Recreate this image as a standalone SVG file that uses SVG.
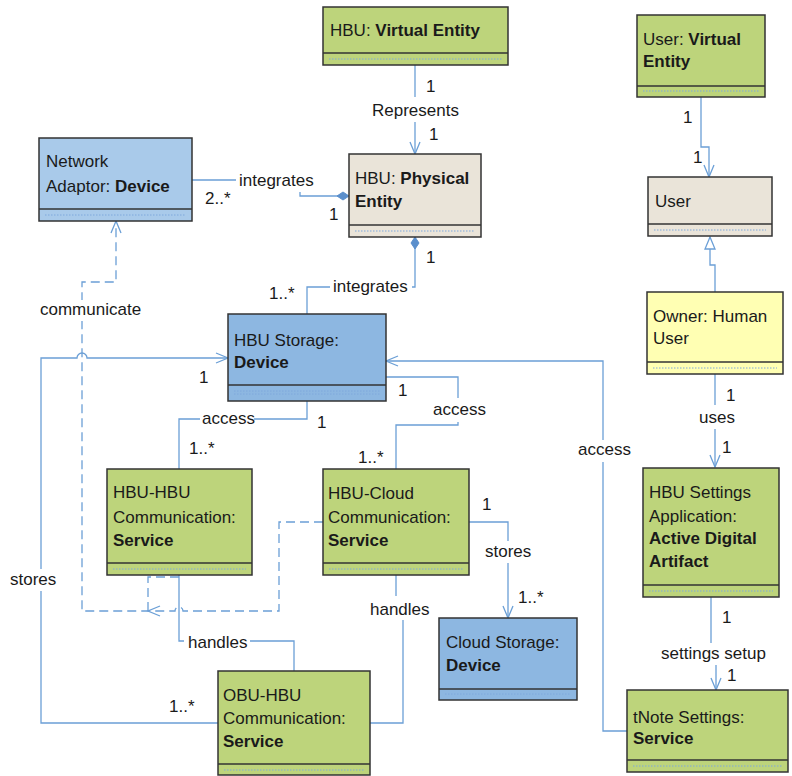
<svg xmlns="http://www.w3.org/2000/svg" width="792" height="776" viewBox="0 0 792 776">
  <style>
    .box { stroke: #333333; stroke-width: 1.5; }
    .green { fill: #BDD47B; }
    .blue { fill: #8DB7E1; }
    .lblue { fill: #A9CAEA; }
    .beige { fill: #EAE4D9; }
    .yellow { fill: #FFFFB3; }
    .div { stroke: #333333; stroke-width: 1.3; }
    .dots { stroke: #7FA8DC; stroke-width: 1; stroke-dasharray: 1.5 1.5; }
    text { font-family: "Liberation Sans", Arial, sans-serif; font-size: 17px; fill: #1a1a1a; }
    .b { font-weight: bold; }
    .conn { fill: none; stroke: #6B9FD6; stroke-width: 1.3; }
    .dash { stroke-dasharray: 9 5; }
    .bg { fill: #ffffff; }
  </style>
  <defs>
    <marker id="open" viewBox="-14 -7 15 14" refX="0" refY="0" markerWidth="15" markerHeight="14" markerUnits="userSpaceOnUse" orient="auto">
      <path d="M-12,-5 L0,0 L-12,5" fill="none" stroke="#6B9FD6" stroke-width="1.3"/>
    </marker>
    <marker id="diamond" viewBox="-13 -5 14 10" refX="0" refY="0" markerWidth="14" markerHeight="10" markerUnits="userSpaceOnUse" orient="auto">
      <path d="M0,0 L-6,-4 L-12,0 L-6,4 Z" fill="#5B8FCC" stroke="#5B8FCC" stroke-width="1"/>
    </marker>
    <marker id="tri" viewBox="-14 -7 15 14" refX="0" refY="0" markerWidth="15" markerHeight="14" markerUnits="userSpaceOnUse" orient="auto">
      <path d="M0,0 L-12,-5 L-12,5 Z" fill="#ffffff" stroke="#6B9FD6" stroke-width="1.3"/>
    </marker>
  </defs>

  <rect width="792" height="776" fill="#ffffff"/>

  <!-- connectors -->
  <g id="connectors">
    <!-- HBU VE represents HBU PE -->
    <path class="conn" d="M415,65 V154" marker-end="url(#open)"/>
    <!-- User VE to User -->
    <path class="conn" d="M701,97 V147 H709 V177" marker-end="url(#open)"/>
    <!-- Network adaptor integrated by PE -->
    <path class="conn" d="M192,180 H300 V196 H349" marker-end="url(#diamond)"/>
    <!-- Storage integrated by PE -->
    <path class="conn" d="M307,314 V287 H415 V237" marker-end="url(#diamond)"/>
    <!-- HBU-HBU access -->
    <path class="conn" d="M307,401 V419 H179 V469"/>
    <!-- HBU-Cloud access -->
    <path class="conn" d="M396,469 V425 H458 V377 H386"/>
    <!-- tNote access -->
    <path class="conn" d="M627,731 H603 V361 H386" marker-end="url(#open)"/>
    <!-- OBU stores -->
    <path class="conn" d="M218,723 H41 V358 H77 A5,5 0 0 1 87,358 H228" marker-end="url(#open)"/>
    <!-- Cloud stores -->
    <path class="conn" d="M469,522 H508 V618" marker-end="url(#open)"/>
    <!-- handles -->
    <path class="conn" d="M179,575 V641 H294 V671"/>
    <path class="conn" d="M396,575 V609 H403 V723 H370"/>
    <!-- uses -->
    <path class="conn" d="M715,374 V467" marker-end="url(#open)"/>
    <!-- settings setup -->
    <path class="conn" d="M711,597 V654 H716 V690" marker-end="url(#open)"/>
    <!-- generalization Owner to User -->
    <path class="conn" d="M715,292 V265 H710 V237" marker-end="url(#tri)"/>
    <!-- communicate dependencies -->
    <path class="conn dash" d="M323,522 H279 V611 H183 A4,4 0 0 0 175,611 H82 V282 H116 V221" marker-end="url(#open)"/>
    <path class="conn dash" d="M179,577 H148 V611"/>
    <path class="conn" d="M160,606 L148,611 L160,616"/>

    <!-- labels -->
    <rect class="bg" x="370" y="97" width="92" height="25"/>
    <text x="372" y="116">Represents</text>
    <text x="426" y="92">1</text>
    <text x="429" y="140">1</text>

    <text x="683" y="123">1</text>
    <text x="693" y="163">1</text>

    <rect class="bg" x="236" y="170" width="85" height="22"/>
    <text x="239" y="186">integrates</text>
    <text x="205" y="204">2..*</text>
    <text x="329" y="220">1</text>

    <rect class="bg" x="330" y="277" width="82" height="21"/>
    <text x="333" y="292">integrates</text>
    <text x="269" y="299">1..*</text>
    <text x="426" y="263">1</text>

    <text x="199" y="383">1</text>

    <rect class="bg" x="200" y="409" width="54" height="20"/>
    <text x="202" y="424">access</text>
    <text x="189" y="454">1..*</text>
    <text x="317" y="428">1</text>

    <rect class="bg" x="431" y="398" width="54" height="24"/>
    <text x="433" y="415">access</text>
    <text x="398" y="396">1</text>
    <text x="358" y="463">1..*</text>

    <rect class="bg" x="576" y="440" width="54" height="22"/>
    <text x="578" y="455">access</text>

    <rect class="bg" x="8" y="569" width="52" height="22"/>
    <text x="10" y="585">stores</text>
    <text x="169" y="712">1..*</text>

    <rect class="bg" x="483" y="541" width="51" height="22"/>
    <text x="485" y="557">stores</text>
    <text x="482" y="510">1</text>
    <text x="518" y="603">1..*</text>

    <rect class="bg" x="184" y="631" width="66" height="20"/>
    <text x="188" y="648">handles</text>

    <rect class="bg" x="367" y="596" width="66" height="24"/>
    <text x="370" y="615">handles</text>

    <rect class="bg" x="38" y="300" width="112" height="21"/>
    <text x="40" y="315">communicate</text>

    <rect class="bg" x="697" y="405" width="36" height="24"/>
    <text x="699" y="423">uses</text>
    <text x="726" y="401">1</text>
    <text x="722" y="453">1</text>

    <rect class="bg" x="659" y="643" width="114" height="22"/>
    <text x="661" y="659">settings setup</text>
    <text x="722" y="623">1</text>
    <text x="727" y="681">1</text>
  </g>

  <!-- nodes -->
  <g id="hbu-virtual-entity">
    <rect class="box green" x="323" y="7" width="185" height="58"/>
    <line class="div" x1="323" y1="53" x2="508" y2="53"/>
    <line class="dots" x1="329" y1="59" x2="502" y2="59"/>
    <text x="330" y="36">HBU: <tspan class="b">Virtual Entity</tspan></text>
  </g>

  <g id="hbu-physical-entity">
    <rect class="box beige" x="349" y="154" width="132" height="83"/>
    <line class="div" x1="349" y1="225" x2="481" y2="225"/>
    <line class="dots" x1="355" y1="231" x2="475" y2="231"/>
    <text x="355" y="184">HBU: <tspan class="b">Physical</tspan></text>
    <text x="355" y="207" class="b">Entity</text>
  </g>

  <g id="user-virtual-entity">
    <rect class="box green" x="637" y="15" width="128" height="82"/>
    <line class="div" x1="637" y1="86" x2="765" y2="86"/>
    <line class="dots" x1="643" y1="91" x2="759" y2="91"/>
    <text x="643" y="45">User: <tspan class="b">Virtual</tspan></text>
    <text x="643" y="67" class="b">Entity</text>
  </g>

  <g id="user">
    <rect class="box beige" x="648" y="177" width="124" height="59"/>
    <line class="div" x1="648" y1="224" x2="772" y2="224"/>
    <line class="dots" x1="654" y1="230" x2="766" y2="230"/>
    <text x="655" y="207">User</text>
  </g>

  <g id="network-adaptor">
    <rect class="box lblue" x="39" y="138" width="153" height="83"/>
    <line class="div" x1="39" y1="209" x2="192" y2="209"/>
    <line class="dots" x1="45" y1="215" x2="186" y2="215"/>
    <text x="46" y="167">Network</text>
    <text x="46" y="192">Adaptor: <tspan class="b">Device</tspan></text>
  </g>

  <g id="hbu-storage">
    <rect class="box blue" x="228" y="314" width="158" height="87"/>
    <line class="div" x1="228" y1="385" x2="386" y2="385"/>
    <line class="dots" x1="234" y1="391" x2="380" y2="391"/>
    <line class="dots" x1="234" y1="394" x2="380" y2="394"/>
    <text x="234" y="346">HBU Storage:</text>
    <text x="234" y="368" class="b">Device</text>
  </g>

  <g id="hbu-hbu-communication">
    <rect class="box green" x="107" y="469" width="145" height="106"/>
    <line class="div" x1="107" y1="563" x2="252" y2="563"/>
    <line class="dots" x1="113" y1="569" x2="246" y2="569"/>
    <text x="113" y="498">HBU-HBU</text>
    <text x="113" y="523">Communication:</text>
    <text x="113" y="546" class="b">Service</text>
  </g>

  <g id="hbu-cloud-communication">
    <rect class="box green" x="323" y="469" width="146" height="106"/>
    <line class="div" x1="323" y1="563" x2="469" y2="563"/>
    <line class="dots" x1="329" y1="569" x2="463" y2="569"/>
    <text x="328" y="499">HBU-Cloud</text>
    <text x="328" y="523">Communication:</text>
    <text x="328" y="546" class="b">Service</text>
  </g>

  <g id="cloud-storage">
    <rect class="box blue" x="439" y="618" width="138" height="82"/>
    <line class="div" x1="439" y1="689" x2="577" y2="689"/>
    <line class="dots" x1="445" y1="694" x2="571" y2="694"/>
    <text x="446" y="648">Cloud Storage:</text>
    <text x="446" y="671" class="b">Device</text>
  </g>

  <g id="obu-hbu-communication">
    <rect class="box green" x="218" y="671" width="152" height="104"/>
    <line class="div" x1="218" y1="764" x2="370" y2="764"/>
    <line class="dots" x1="224" y1="770" x2="364" y2="770"/>
    <text x="223" y="701">OBU-HBU</text>
    <text x="223" y="724">Communication:</text>
    <text x="223" y="747" class="b">Service</text>
  </g>

  <g id="owner">
    <rect class="box yellow" x="647" y="292" width="136" height="82"/>
    <line class="div" x1="647" y1="362" x2="783" y2="362"/>
    <line class="dots" x1="653" y1="368" x2="777" y2="368"/>
    <text x="653" y="322">Owner: Human</text>
    <text x="653" y="344">User</text>
  </g>

  <g id="hbu-settings-application">
    <rect class="box green" x="643" y="468" width="136" height="129"/>
    <line class="div" x1="643" y1="585" x2="779" y2="585"/>
    <line class="dots" x1="649" y1="591" x2="773" y2="591"/>
    <text x="649" y="498">HBU Settings</text>
    <text x="649" y="522">Application:</text>
    <text x="649" y="544" class="b">Active Digital</text>
    <text x="649" y="567" class="b">Artifact</text>
  </g>

  <g id="tnote-settings">
    <rect class="box green" x="627" y="690" width="161" height="82"/>
    <line class="div" x1="627" y1="760" x2="788" y2="760"/>
    <line class="dots" x1="633" y1="766" x2="782" y2="766"/>
    <text x="633" y="723">tNote Settings:</text>
    <text x="633" y="744" class="b">Service</text>
  </g>
</svg>
